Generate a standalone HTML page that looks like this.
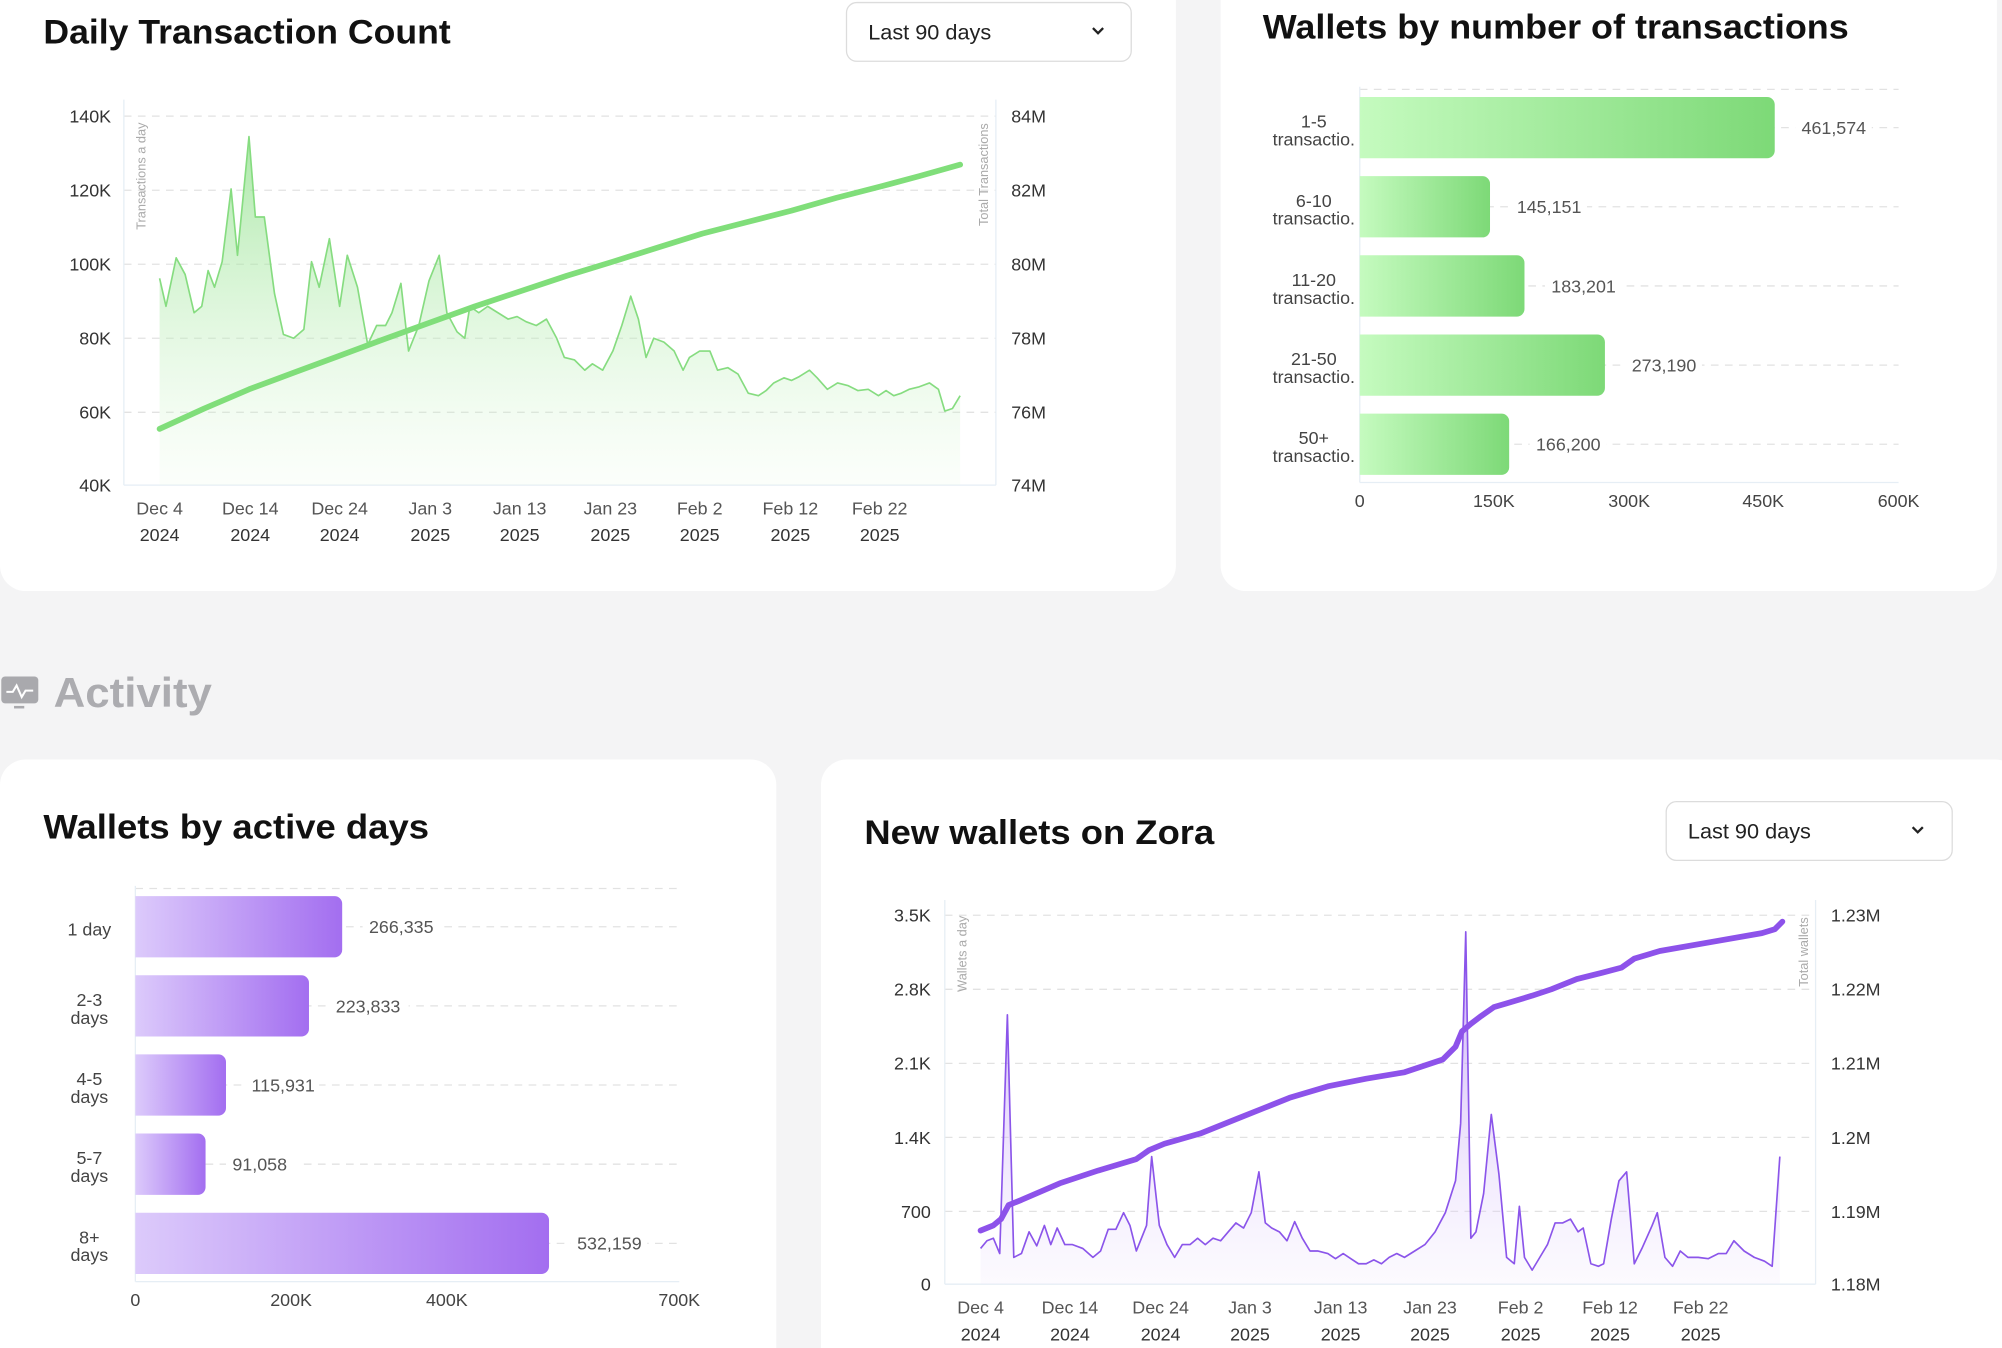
<!DOCTYPE html>
<html><head><meta charset="utf-8"><style>
html,body{margin:0;padding:0;background:#f4f4f5;}
svg{display:block;}
text{font-family:"Liberation Sans",sans-serif;}
</style></head><body>
<svg width="2002" height="1348" viewBox="0 0 1568 1056" preserveAspectRatio="none" xmlns="http://www.w3.org/2000/svg">
<defs>
<linearGradient id="ga" x1="0" y1="0" x2="0" y2="1"><stop offset="0" stop-color="#8fe08a" stop-opacity="0.75"/><stop offset="1" stop-color="#d8f7d4" stop-opacity="0.1"/></linearGradient>
<linearGradient id="pa" x1="0" y1="0" x2="0" y2="1"><stop offset="0" stop-color="#a06cf0" stop-opacity="0.6"/><stop offset="1" stop-color="#efe6fd" stop-opacity="0.2"/></linearGradient>
<linearGradient id="gb" x1="0" y1="0" x2="1" y2="0"><stop offset="0" stop-color="#c5fbbf"/><stop offset="1" stop-color="#7dd977"/></linearGradient>
<linearGradient id="pb" x1="0" y1="0" x2="1" y2="0"><stop offset="0" stop-color="#dccafb"/><stop offset="1" stop-color="#a36ef0"/></linearGradient>
</defs>
<rect width="1568" height="1056" fill="#f4f4f5"/>
<!-- cards -->
<rect x="0" y="-20" width="921" height="483" rx="20" fill="#fff"/>
<rect x="956" y="-20" width="608" height="483" rx="20" fill="#fff"/>
<rect x="0" y="595" width="608" height="480" rx="20" fill="#fff"/>
<rect x="643" y="595" width="940" height="480" rx="20" fill="#fff"/>

<!-- Card 1 -->
<text x="34" y="34" font-size="27" font-weight="bold" fill="#111" textLength="319" lengthAdjust="spacingAndGlyphs">Daily Transaction Count</text>
<rect x="663" y="2" width="223" height="46" rx="8" fill="#fff" stroke="#dcdcdc"/>
<text x="680" y="31" font-size="17" fill="#222">Last 90 days</text>
<path d="M856 22 l4 4 l4 -4" fill="none" stroke="#222" stroke-width="1.8"/>
<g stroke="#e2e2e2" stroke-dasharray="6 5" stroke-width="1">
<line x1="97" y1="91" x2="780" y2="91"/><line x1="97" y1="149" x2="780" y2="149"/><line x1="97" y1="207" x2="780" y2="207"/><line x1="97" y1="265" x2="780" y2="265"/><line x1="97" y1="323" x2="780" y2="323"/>
</g>
<line x1="97" y1="78" x2="97" y2="380" stroke="#e6eef5"/>
<line x1="780" y1="78" x2="780" y2="380" stroke="#e6eef5"/>
<line x1="97" y1="380" x2="780" y2="380" stroke="#e6eef5"/>
<g font-size="14" fill="#333" text-anchor="end">
<text x="87" y="96">140K</text><text x="87" y="154">120K</text><text x="87" y="212">100K</text><text x="87" y="270">80K</text><text x="87" y="328">60K</text><text x="87" y="385">40K</text>
</g>
<g font-size="14" fill="#333">
<text x="792" y="96">84M</text><text x="792" y="154">82M</text><text x="792" y="212">80M</text><text x="792" y="270">78M</text><text x="792" y="328">76M</text><text x="792" y="385">74M</text>
</g>
<text transform="translate(114,180) rotate(-90)" font-size="10" fill="#aaa">Transactions a day</text>
<text transform="translate(774,177) rotate(-90)" font-size="10" fill="#aaa">Total Transactions</text>
<g font-size="14" fill="#555" text-anchor="middle">
<text x="125" y="403">Dec 4</text><text x="196" y="403">Dec 14</text><text x="266" y="403">Dec 24</text><text x="337" y="403">Jan 3</text><text x="407" y="403">Jan 13</text><text x="478" y="403">Jan 23</text><text x="548" y="403">Feb 2</text><text x="619" y="403">Feb 12</text><text x="689" y="403">Feb 22</text>
</g>
<g font-size="14" fill="#333" text-anchor="middle">
<text x="125" y="424">2024</text><text x="196" y="424">2024</text><text x="266" y="424">2024</text><text x="337" y="424">2025</text><text x="407" y="424">2025</text><text x="478" y="424">2025</text><text x="548" y="424">2025</text><text x="619" y="424">2025</text><text x="689" y="424">2025</text>
</g>
<path d="M125,380 L125,218 130,240 138,202 145,215 152,245 158,240 163,212 168,225 174,205 181,148 186,200 195,107 200,170 207,170 215,230 222,262 230,265 238,258 244,205 250,225 258,187 266,240 272,200 280,225 288,270 295,255 302,255 307,245 314,222 320,275 328,255 336,220 344,200 350,245 358,260 364,265 368,240 375,245 382,240 390,245 398,250 405,248 412,252 420,255 428,250 436,265 442,280 450,282 458,290 464,285 472,290 480,275 487,255 494,232 500,250 506,280 512,265 520,268 528,275 535,290 540,280 548,275 556,275 562,290 570,288 578,293 586,308 594,310 600,306 606,300 614,296 620,298 626,295 634,290 640,296 648,305 656,300 664,302 672,306 680,305 688,310 694,306 700,310 706,308 712,305 720,303 728,300 735,305 740,322 746,320 752,310 L752,380 Z" fill="url(#ga)" stroke="none"/>
<polyline points="125,218 130,240 138,202 145,215 152,245 158,240 163,212 168,225 174,205 181,148 186,200 195,107 200,170 207,170 215,230 222,262 230,265 238,258 244,205 250,225 258,187 266,240 272,200 280,225 288,270 295,255 302,255 307,245 314,222 320,275 328,255 336,220 344,200 350,245 358,260 364,265 368,240 375,245 382,240 390,245 398,250 405,248 412,252 420,255 428,250 436,265 442,280 450,282 458,290 464,285 472,290 480,275 487,255 494,232 500,250 506,280 512,265 520,268 528,275 535,290 540,280 548,275 556,275 562,290 570,288 578,293 586,308 594,310 600,306 606,300 614,296 620,298 626,295 634,290 640,296 648,305 656,300 664,302 672,306 680,305 688,310 694,306 700,310 706,308 712,305 720,303 728,300 735,305 740,322 746,320 752,310" fill="none" stroke="#86dc80" stroke-width="1.3" stroke-linejoin="round"/>
<polyline points="125,336 160,320 195,305 230,292 265,279 300,266 336,253 372,240 408,228 444,216 480,205 515,194 550,183 585,174 620,165 655,155 690,146 720,138 752,129" fill="none" stroke="#80de7a" stroke-width="4.5" stroke-linecap="round" stroke-linejoin="round"/>

<!-- Card 2 -->
<text x="989" y="30" font-size="27" font-weight="bold" fill="#111" textLength="459" lengthAdjust="spacingAndGlyphs">Wallets by number of transactions</text>
<g stroke="#e2e2e2" stroke-dasharray="6 5">
<line x1="1065" y1="70" x2="1487" y2="70"/><line x1="1065" y1="100" x2="1487" y2="100"/><line x1="1065" y1="162" x2="1487" y2="162"/><line x1="1065" y1="224" x2="1487" y2="224"/><line x1="1065" y1="286" x2="1487" y2="286"/><line x1="1065" y1="348" x2="1487" y2="348"/>
</g>
<line x1="1065" y1="68" x2="1065" y2="378" stroke="#e6eef5"/>
<line x1="1065" y1="378" x2="1487" y2="378" stroke="#e6eef5"/>
<g fill="url(#gb)">
<path d="M1065,76 H1384 a6,6 0 0 1 6,6 V118 a6,6 0 0 1 -6,6 H1065 Z"/>
<path d="M1065,138 H1161 a6,6 0 0 1 6,6 V180 a6,6 0 0 1 -6,6 H1065 Z"/>
<path d="M1065,200 H1188 a6,6 0 0 1 6,6 V242 a6,6 0 0 1 -6,6 H1065 Z"/>
<path d="M1065,262 H1251 a6,6 0 0 1 6,6 V304 a6,6 0 0 1 -6,6 H1065 Z"/>
<path d="M1065,324 H1176 a6,6 0 0 1 6,6 V366 a6,6 0 0 1 -6,6 H1065 Z"/>
</g>
<g font-size="14" fill="#555">
<rect x="1406" y="90" width="60" height="20" fill="#fff"/><text x="1411" y="105">461,574</text>
<rect x="1183" y="152" width="60" height="20" fill="#fff"/><text x="1188" y="167">145,151</text>
<rect x="1210" y="214" width="60" height="20" fill="#fff"/><text x="1215" y="229">183,201</text>
<rect x="1273" y="276" width="60" height="20" fill="#fff"/><text x="1278" y="291">273,190</text>
<rect x="1198" y="338" width="60" height="20" fill="#fff"/><text x="1203" y="353">166,200</text>
</g>
<g font-size="14" fill="#444" text-anchor="middle">
<text x="1029" y="100">1-5</text><text x="1029" y="114">transactio.</text>
<text x="1029" y="162">6-10</text><text x="1029" y="176">transactio.</text>
<text x="1029" y="224">11-20</text><text x="1029" y="238">transactio.</text>
<text x="1029" y="286">21-50</text><text x="1029" y="300">transactio.</text>
<text x="1029" y="348">50+</text><text x="1029" y="362">transactio.</text>
</g>
<g font-size="14" fill="#444" text-anchor="middle">
<text x="1065" y="397">0</text><text x="1170" y="397">150K</text><text x="1276" y="397">300K</text><text x="1381" y="397">450K</text><text x="1487" y="397">600K</text>
</g>

<!-- Activity -->
<rect x="1" y="530" width="29" height="21" rx="3" fill="#a9a9ad"/>
<rect x="11" y="553" width="8" height="2" fill="#a9a9ad"/>
<path d="M5 542 l5 0 l3 -5 l4 9 l3 -5 l6 0" fill="none" stroke="#fff" stroke-width="1.6"/>
<text x="42" y="554" font-size="33" font-weight="bold" fill="#acacb0" textLength="124" lengthAdjust="spacingAndGlyphs">Activity</text>

<!-- Card 3 -->
<text x="34" y="657" font-size="27" font-weight="bold" fill="#111" textLength="302" lengthAdjust="spacingAndGlyphs">Wallets by active days</text>
<g stroke="#e2e2e2" stroke-dasharray="6 5">
<line x1="106" y1="696" x2="532" y2="696"/><line x1="106" y1="726" x2="532" y2="726"/><line x1="106" y1="788" x2="532" y2="788"/><line x1="106" y1="850" x2="532" y2="850"/><line x1="106" y1="912" x2="532" y2="912"/><line x1="106" y1="974" x2="532" y2="974"/>
</g>
<line x1="106" y1="694" x2="106" y2="1004" stroke="#e6eef5"/>
<line x1="106" y1="1004" x2="532" y2="1004" stroke="#e6eef5"/>
<g fill="url(#pb)">
<path d="M106,702 H262 a6,6 0 0 1 6,6 V744 a6,6 0 0 1 -6,6 H106 Z"/>
<path d="M106,764 H236 a6,6 0 0 1 6,6 V806 a6,6 0 0 1 -6,6 H106 Z"/>
<path d="M106,826 H171 a6,6 0 0 1 6,6 V868 a6,6 0 0 1 -6,6 H106 Z"/>
<path d="M106,888 H155 a6,6 0 0 1 6,6 V930 a6,6 0 0 1 -6,6 H106 Z"/>
<path d="M106,950 H424 a6,6 0 0 1 6,6 V992 a6,6 0 0 1 -6,6 H106 Z"/>
</g>
<g font-size="14" fill="#555">
<rect x="284" y="716" width="62" height="20" fill="#fff"/><text x="289" y="731">266,335</text>
<rect x="258" y="778" width="62" height="20" fill="#fff"/><text x="263" y="793">223,833</text>
<rect x="192" y="840" width="58" height="20" fill="#fff"/><text x="197" y="855">115,931</text>
<rect x="177" y="902" width="56" height="20" fill="#fff"/><text x="182" y="917">91,058</text>
<rect x="447" y="964" width="60" height="20" fill="#fff"/><text x="452" y="979">532,159</text>
</g>
<g font-size="14" fill="#444" text-anchor="middle">
<text x="70" y="733">1 day</text>
<text x="70" y="788">2-3</text><text x="70" y="802">days</text>
<text x="70" y="850">4-5</text><text x="70" y="864">days</text>
<text x="70" y="912">5-7</text><text x="70" y="926">days</text>
<text x="70" y="974">8+</text><text x="70" y="988">days</text>
</g>
<g font-size="14" fill="#444" text-anchor="middle">
<text x="106" y="1023">0</text><text x="228" y="1023">200K</text><text x="350" y="1023">400K</text><text x="532" y="1023">700K</text>
</g>

<!-- Card 4 -->
<text x="677" y="661" font-size="27" font-weight="bold" fill="#111" textLength="274" lengthAdjust="spacingAndGlyphs">New wallets on Zora</text>
<rect x="1305" y="628" width="224" height="46" rx="8" fill="#fff" stroke="#dcdcdc"/>
<text x="1322" y="657" font-size="17" fill="#222">Last 90 days</text>
<path d="M1498 648 l4 4 l4 -4" fill="none" stroke="#222" stroke-width="1.8"/>
<g stroke="#e2e2e2" stroke-dasharray="6 5">
<line x1="740" y1="717" x2="1422" y2="717"/><line x1="740" y1="775" x2="1422" y2="775"/><line x1="740" y1="833" x2="1422" y2="833"/><line x1="740" y1="891" x2="1422" y2="891"/><line x1="740" y1="949" x2="1422" y2="949"/>
</g>
<line x1="740" y1="705" x2="740" y2="1006" stroke="#e6eef5"/>
<line x1="1422" y1="705" x2="1422" y2="1006" stroke="#e6eef5"/>
<line x1="740" y1="1006" x2="1422" y2="1006" stroke="#e6eef5"/>
<g font-size="14" fill="#333" text-anchor="end">
<text x="729" y="722">3.5K</text><text x="729" y="780">2.8K</text><text x="729" y="838">2.1K</text><text x="729" y="896">1.4K</text><text x="729" y="954">700</text><text x="729" y="1011">0</text>
</g>
<g font-size="14" fill="#333">
<text x="1434" y="722">1.23M</text><text x="1434" y="780">1.22M</text><text x="1434" y="838">1.21M</text><text x="1434" y="896">1.2M</text><text x="1434" y="954">1.19M</text><text x="1434" y="1011">1.18M</text>
</g>
<text transform="translate(757,777) rotate(-90)" font-size="10" fill="#aaa">Wallets a day</text>
<text transform="translate(1416,773) rotate(-90)" font-size="10" fill="#aaa">Total wallets</text>
<g font-size="14" fill="#555" text-anchor="middle">
<text x="768" y="1029">Dec 4</text><text x="838" y="1029">Dec 14</text><text x="909" y="1029">Dec 24</text><text x="979" y="1029">Jan 3</text><text x="1050" y="1029">Jan 13</text><text x="1120" y="1029">Jan 23</text><text x="1191" y="1029">Feb 2</text><text x="1261" y="1029">Feb 12</text><text x="1332" y="1029">Feb 22</text>
</g>
<g font-size="14" fill="#333" text-anchor="middle">
<text x="768" y="1050">2024</text><text x="838" y="1050">2024</text><text x="909" y="1050">2024</text><text x="979" y="1050">2025</text><text x="1050" y="1050">2025</text><text x="1120" y="1050">2025</text><text x="1191" y="1050">2025</text><text x="1261" y="1050">2025</text><text x="1332" y="1050">2025</text>
</g>
<path d="M768,1006 L768,978 773,972 778,970 783,982 789,795 794,985 800,982 806,965 812,976 818,960 823,975 828,962 834,975 840,975 848,978 856,985 862,980 868,963 874,963 880,950 885,960 890,980 898,960 902,906 908,960 914,975 920,985 926,975 932,975 938,970 944,975 950,970 956,972 962,965 968,958 974,962 980,950 986,918 991,958 996,962 1002,965 1008,972 1014,957 1020,970 1026,980 1032,980 1040,982 1046,986 1052,982 1058,986 1064,990 1070,990 1076,987 1082,990 1088,985 1094,982 1100,985 1108,980 1116,975 1124,965 1132,950 1140,925 1144,880 1148,730 1152,970 1156,965 1162,935 1168,873 1174,920 1180,985 1186,990 1190,945 1194,985 1200,995 1206,985 1212,975 1218,958 1224,958 1230,955 1236,965 1240,962 1246,990 1252,992 1256,990 1262,955 1268,925 1274,918 1280,990 1286,978 1294,960 1298,950 1304,985 1310,992 1316,980 1322,985 1330,985 1338,986 1346,982 1352,982 1358,972 1366,980 1374,985 1382,988 1388,992 1394,906 L1394,1006 Z" fill="url(#pa)"/>
<polyline points="768,978 773,972 778,970 783,982 789,795 794,985 800,982 806,965 812,976 818,960 823,975 828,962 834,975 840,975 848,978 856,985 862,980 868,963 874,963 880,950 885,960 890,980 898,960 902,906 908,960 914,975 920,985 926,975 932,975 938,970 944,975 950,970 956,972 962,965 968,958 974,962 980,950 986,918 991,958 996,962 1002,965 1008,972 1014,957 1020,970 1026,980 1032,980 1040,982 1046,986 1052,982 1058,986 1064,990 1070,990 1076,987 1082,990 1088,985 1094,982 1100,985 1108,980 1116,975 1124,965 1132,950 1140,925 1144,880 1148,730 1152,970 1156,965 1162,935 1168,873 1174,920 1180,985 1186,990 1190,945 1194,985 1200,995 1206,985 1212,975 1218,958 1224,958 1230,955 1236,965 1240,962 1246,990 1252,992 1256,990 1262,955 1268,925 1274,918 1280,990 1286,978 1294,960 1298,950 1304,985 1310,992 1316,980 1322,985 1330,985 1338,986 1346,982 1352,982 1358,972 1366,980 1374,985 1382,988 1388,992 1394,906" fill="none" stroke="#8b55ea" stroke-width="1.3" stroke-linejoin="round"/>
<polyline points="768,964 778,960 784,955 790,944 800,940 830,927 860,917 890,908 900,901 912,896 940,888 970,876 990,868 1010,860 1040,851 1070,845 1100,840 1130,830 1140,820 1145,808 1152,802 1160,796 1170,789 1180,786 1200,780 1215,775 1235,767 1255,762 1270,758 1280,751 1300,745 1340,738 1380,731 1390,728 1396,722" fill="none" stroke="#8d52ea" stroke-width="4.5" stroke-linecap="round" stroke-linejoin="round"/>
</svg>
</body></html>
